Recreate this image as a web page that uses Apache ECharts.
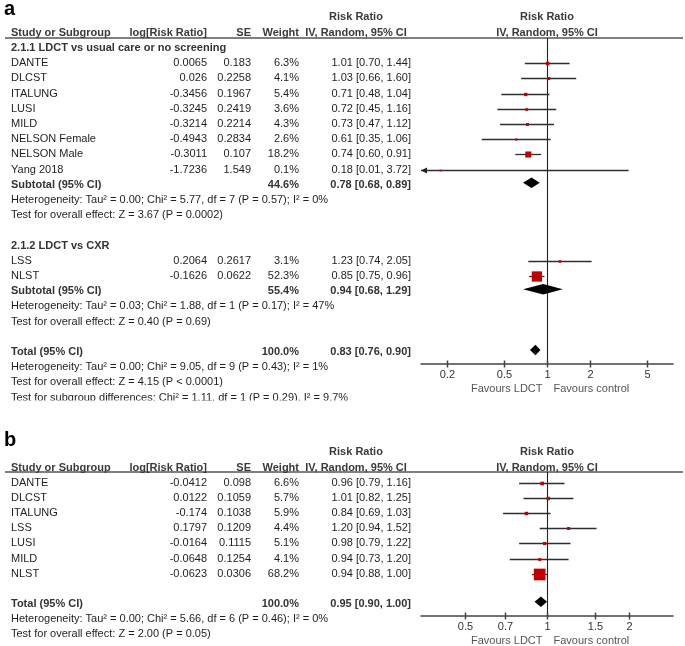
<!DOCTYPE html>
<html>
<head>
<meta charset="utf-8">
<script src="https://cdn.jsdelivr.net/npm/echarts@6/dist/echarts.min.js"></script>
<style>html,body{margin:0;padding:0;background:#fff}#c{width:685px;height:646px}</style>
</head>
<body>
<div id="c"></div>
<script>
// ================= DATA =================
// Panel a
const groupTitlesA = ['2.1.1 LDCT vs usual care or no screening', '2.1.2 LDCT vs CXR'];
const groupSizesA = [8, 2];
const studiesA = ['DANTE', 'DLCST', 'ITALUNG', 'LUSI', 'MILD', 'NELSON Female', 'NELSON Male', 'Yang 2018', 'LSS', 'NLST'];
const logRRA = [0.0065, 0.026, -0.3456, -0.3245, -0.3214, -0.4943, -0.3011, -1.7236, 0.2064, -0.1626];
const seA = [0.183, 0.2258, 0.1967, 0.2419, 0.2214, 0.2834, 0.107, 1.549, 0.2617, 0.0622];
const weightA = [6.3, 4.1, 5.4, 3.6, 4.3, 2.6, 18.2, 0.1, 3.1, 52.3];
const rrA = [1.01, 1.03, 0.71, 0.72, 0.73, 0.61, 0.74, 0.18, 1.23, 0.85];
const loA = [0.70, 0.66, 0.48, 0.45, 0.47, 0.35, 0.60, 0.01, 0.74, 0.75];
const hiA = [1.44, 1.60, 1.04, 1.16, 1.12, 1.06, 0.91, 3.72, 2.05, 0.96];
const subWeightA = [44.6, 55.4];
const subRRA = [0.78, 0.94];
const subLoA = [0.68, 0.68];
const subHiA = [0.89, 1.29];
const subHetA = ['Heterogeneity: Tau² = 0.00; Chi² = 5.77, df = 7 (P = 0.57); I² = 0%',
                 'Heterogeneity: Tau² = 0.03; Chi² = 1.88, df = 1 (P = 0.17); I² = 47%'];
const subTestA = ['Test for overall effect: Z = 3.67 (P = 0.0002)',
                  'Test for overall effect: Z = 0.40 (P = 0.69)'];
const totalA = [0.83, 0.76, 0.90];
const totalWeightA = 100.0;
const totalNotesA = ['Heterogeneity: Tau² = 0.00; Chi² = 9.05, df = 9 (P = 0.43); I² = 1%',
                     'Test for overall effect: Z = 4.15 (P < 0.0001)',
                     'Test for subgroup differences: Chi² = 1.11, df = 1 (P = 0.29), I² = 9.7%'];
const ticksA = [0.2, 0.5, 1, 2, 5];

// Panel b
const studiesB = ['DANTE', 'DLCST', 'ITALUNG', 'LSS', 'LUSI', 'MILD', 'NLST'];
const logRRB = [-0.0412, 0.0122, -0.174, 0.1797, -0.0164, -0.0648, -0.0623];
const seB = [0.098, 0.1059, 0.1038, 0.1209, 0.1115, 0.1254, 0.0306];
const weightB = [6.6, 5.7, 5.9, 4.4, 5.1, 4.1, 68.2];
const rrB = [0.96, 1.01, 0.84, 1.20, 0.98, 0.94, 0.94];
const loB = [0.79, 0.82, 0.69, 0.94, 0.79, 0.73, 0.88];
const hiB = [1.16, 1.25, 1.03, 1.52, 1.22, 1.20, 1.00];
const totalB = [0.95, 0.90, 1.00];
const totalWeightB = 100.0;
const totalNotesB = ['Heterogeneity: Tau² = 0.00; Chi² = 5.66, df = 6 (P = 0.46); I² = 0%',
                     'Test for overall effect: Z = 2.00 (P = 0.05)'];
const ticksB = [0.5, 0.7, 1, 1.5, 2];

// Texts
const headerTop = 'Risk Ratio';
const headerCols = ['Study or Subgroup', 'log[Risk Ratio]', 'SE', 'Weight', 'IV, Random, 95% CI'];
const favours = ['Favours LDCT', 'Favours control'];
const panelLabels = ['a', 'b'];

// ================= LAYOUT =================
const FF = '"Liberation Sans", Arial, Helvetica, sans-serif';
const COL = {name: 11, logrr: 207, se: 251, weight: 299, ciR: 411, ciC: 356};
const LA = {firstY: 48, rowH: 15.2, top: 38, axisY: 364, min: 1 / 7.6, max: 7.6};
const LB = {firstY: 483, rowH: 15.1, top: 472, axisY: 616, min: 1 / 2.9, max: 2.9};
const HC = '#3a3a3a';
const TC = '#1e1e1e';

function cell(t, x, a, bold, color) {
  return {t: t, x: x, a: a, bold: !!bold, color: color || (bold ? '#333' : TC)};
}
function ciText(rr, lo, hi) { return rr.toFixed(2) + ' [' + lo.toFixed(2) + ', ' + hi.toFixed(2) + ']'; }
function studyCells(name, lr, se, w, rr, lo, hi) {
  return [cell(name, COL.name, 'left'), cell(String(lr), COL.logrr, 'right'), cell(String(se), COL.se, 'right'),
          cell(w.toFixed(1) + '%', COL.weight, 'right'), cell(ciText(rr, lo, hi), COL.ciR, 'right')];
}
function headerRows() {
  return [
    {row: -2.07, cells: [cell(headerTop, COL.ciC, 'center', true, HC), cell(headerTop, 'forest', 'center', true, HC)]},
    {row: -1.02, cells: [cell(headerCols[0], COL.name, 'left', true, HC), cell(headerCols[1], COL.logrr, 'right', true, HC),
                      cell(headerCols[2], COL.se, 'right', true, HC), cell(headerCols[3], COL.weight, 'right', true, HC),
                      cell(headerCols[4], COL.ciC, 'center', true, HC), cell(headerCols[4], 'forest', 'center', true, HC)]}
  ];
}

// ---- build panel a rows ----
const rowsA = headerRows(), studyItemsA = [], diamondItemsA = [];
(function () {
  let r = 0, s = 0;
  groupTitlesA.forEach(function (title, g) {
    rowsA.push({row: r++, cells: [cell(title, COL.name, 'left', true)]});
    for (let k = 0; k < groupSizesA[g]; k++, s++) {
      rowsA.push({row: r, cells: studyCells(studiesA[s], logRRA[s], seA[s], weightA[s], rrA[s], loA[s], hiA[s])});
      studyItemsA.push([rrA[s], loA[s], hiA[s], r, weightA[s]]);
      r++;
    }
    rowsA.push({row: r, cells: [cell('Subtotal (95% CI)', COL.name, 'left', true),
      cell(subWeightA[g].toFixed(1) + '%', COL.weight, 'right', true),
      cell(ciText(subRRA[g], subLoA[g], subHiA[g]), COL.ciR, 'right', true)]});
    diamondItemsA.push([subRRA[g], subLoA[g], subHiA[g], r]);
    r++;
    rowsA.push({row: r++, cells: [cell(subHetA[g], COL.name, 'left')]});
    rowsA.push({row: r++, cells: [cell(subTestA[g], COL.name, 'left')]});
    r++;
  });
  rowsA.push({row: r, cells: [cell('Total (95% CI)', COL.name, 'left', true),
    cell(totalWeightA.toFixed(1) + '%', COL.weight, 'right', true),
    cell(ciText(totalA[0], totalA[1], totalA[2]), COL.ciR, 'right', true)]});
  diamondItemsA.push([totalA[0], totalA[1], totalA[2], r]);
  r++;
  totalNotesA.forEach(function (t) { rowsA.push({row: r++, cells: [cell(t, COL.name, 'left')]}); });
})();

// ---- build panel b rows ----
const rowsB = headerRows(), studyItemsB = [], diamondItemsB = [];
(function () {
  let r = 0;
  studiesB.forEach(function (nm, s) {
    rowsB.push({row: r, cells: studyCells(nm, logRRB[s], seB[s], weightB[s], rrB[s], loB[s], hiB[s])});
    studyItemsB.push([rrB[s], loB[s], hiB[s], r, weightB[s]]);
    r++;
  });
  r++;
  rowsB.push({row: r, cells: [cell('Total (95% CI)', COL.name, 'left', true),
    cell(totalWeightB.toFixed(1) + '%', COL.weight, 'right', true),
    cell(ciText(totalB[0], totalB[1], totalB[2]), COL.ciR, 'right', true)]});
  diamondItemsB.push([totalB[0], totalB[1], totalB[2], r]);
  r++;
  totalNotesB.forEach(function (t) { rowsB.push({row: r++, cells: [cell(t, COL.name, 'left')]}); });
})();

// ================= SERIES =================
function txt(x, y, text, align, font, fill) {
  return {type: 'text', x: x, y: y, silent: true,
    style: {text: text, x: 0, y: 0, align: align, textAlign: align, verticalAlign: 'middle', textVerticalAlign: 'middle', font: font, fill: fill}};
}
function tableSeries(gi, rows) {
  return {
    type: 'custom', xAxisIndex: gi, yAxisIndex: gi, clip: false, silent: true, z: 5,
    data: rows.map(function (r) { return [1, r.row]; }),
    encode: {x: 0, y: 1},
    renderItem: function (params, api) {
      const def = rows[params.dataIndex];
      const p = api.coord([1, api.value(1)]);
      return {type: 'group', children: def.cells.map(function (c) {
        const x = c.x === 'forest' ? p[0] : c.x;
        return txt(x, p[1], c.t, c.a, (c.bold ? 'bold ' : '') + '11px ' + FF, c.color);
      })};
    }
  };
}
function studySeries(gi, items) {
  return {
    type: 'custom', xAxisIndex: gi, yAxisIndex: gi, clip: false, silent: true, z: 4,
    data: items, encode: {x: [0, 1, 2], y: 3},
    renderItem: function (params, api) {
      const cs = params.coordSys;
      const row = api.value(3);
      const y = Math.round(api.coord([1, row])[1]) + 0.5;
      const xc = api.coord([api.value(0), row])[0];
      let xl = api.coord([api.value(1), row])[0];
      let xh = api.coord([api.value(2), row])[0];
      const left = cs.x, right = cs.x + cs.width;
      const arrowL = xl < left, arrowR = xh > right;
      xl = Math.max(xl, left); xh = Math.min(xh, right);
      const kids = [{type: 'line', shape: {x1: xl, y1: y, x2: xh, y2: y}, style: {stroke: '#2e2e2e', lineWidth: 1.3}}];
      if (arrowL) kids.push({type: 'polygon', shape: {points: [[left, y], [left + 6, y - 3], [left + 6, y + 3]]}, style: {fill: '#222'}});
      if (arrowR) kids.push({type: 'polygon', shape: {points: [[right, y], [right - 6, y - 3], [right - 6, y + 3]]}, style: {fill: '#222'}});
      const sz = Math.max(1.8, 1.42 * Math.sqrt(api.value(4)));
      kids.push({type: 'rect', shape: {x: xc - sz / 2, y: y - sz / 2, width: sz, height: sz}, style: {fill: '#c00000'}});
      return {type: 'group', children: kids};
    }
  };
}
function diamondSeries(gi, items) {
  return {
    type: 'custom', xAxisIndex: gi, yAxisIndex: gi, clip: false, silent: true, z: 4,
    data: items, encode: {x: [0, 1, 2], y: 3},
    renderItem: function (params, api) {
      const row = api.value(3);
      const pc = api.coord([api.value(0), row]);
      const xl = api.coord([api.value(1), row])[0];
      const xh = api.coord([api.value(2), row])[0];
      const y = pc[1] - 2, h = 5.2;
      return {type: 'polygon', shape: {points: [[xl, y], [pc[0], y - h], [xh, y], [pc[0], y + h]]}, style: {fill: '#000'}};
    }
  };
}
function refLineSeries(gi) {
  return {
    type: 'custom', xAxisIndex: gi, yAxisIndex: gi, clip: false, silent: true, z: 3,
    data: [[1, 0]], encode: {x: 0, y: 1},
    renderItem: function (params, api) {
      const cs = params.coordSys;
      const x = Math.round(api.coord([api.value(0), api.value(1)])[0]) + 0.5;
      const ay = cs.y + cs.height;
      return {type: 'group', children: [
        {type: 'line', shape: {x1: x, y1: cs.y, x2: x, y2: ay}, style: {stroke: '#222', lineWidth: 1.1}},
        txt(x - 5, ay + 25, favours[0], 'right', '11px ' + FF, '#555'),
        txt(x + 6, ay + 25, favours[1], 'left', '11px ' + FF, '#555')
      ]};
    }
  };
}
function tickSeries(gi, ticks) {
  return {
    type: 'custom', xAxisIndex: gi, yAxisIndex: gi, clip: false, silent: true, z: 3,
    data: ticks.map(function (v) { return [v, 0]; }), encode: {x: 0, y: 1},
    renderItem: function (params, api) {
      const cs = params.coordSys;
      const ay = cs.y + cs.height;
      const x = Math.round(api.coord([api.value(0), api.value(1)])[0]) + 0.5;
      return {type: 'group', children: [
        {type: 'line', shape: {x1: x, y1: ay - 3.5, x2: x, y2: ay + 3.5}, style: {stroke: '#444', lineWidth: 1.5}},
        txt(x, ay + 11, String(ticks[params.dataIndex]), 'center', '11px ' + FF, '#333')
      ]};
    }
  };
}
function xAxisFor(gi, L) {
  return {type: 'log', logBase: 10, gridIndex: gi, min: L.min, max: L.max,
    axisLine: {show: true, onZero: false, lineStyle: {color: '#444', width: 1.5}},
    axisTick: {show: false}, axisLabel: {show: false}, splitLine: {show: false}};
}
function yAxisFor(gi, L) {
  return {type: 'value', gridIndex: gi, inverse: true, show: false,
    min: (L.top - L.firstY) / L.rowH, max: (L.axisY - L.firstY) / L.rowH,
    splitLine: {show: false}};
}

const chart = echarts.init(document.getElementById('c'), null, {renderer: 'canvas'});
chart.setOption({
  animation: false,
  backgroundColor: '#fff',
  grid: [
    {left: 421, right: 12, top: LA.top, height: LA.axisY - LA.top},
    {left: 421, right: 12, top: LB.top, height: LB.axisY - LB.top}
  ],
  xAxis: [xAxisFor(0, LA), xAxisFor(1, LB)],
  yAxis: [yAxisFor(0, LA), yAxisFor(1, LB)],
  series: [
    refLineSeries(0), tickSeries(0, ticksA), studySeries(0, studyItemsA), diamondSeries(0, diamondItemsA), tableSeries(0, rowsA),
    refLineSeries(1), tickSeries(1, ticksB), studySeries(1, studyItemsB), diamondSeries(1, diamondItemsB), tableSeries(1, rowsB)
  ],
  graphic: [
    {type: 'text', left: 4, top: -1, silent: true, style: {text: panelLabels[0], font: 'bold 20px ' + FF, fill: '#000'}},
    {type: 'text', left: 4, top: 430, silent: true, style: {text: panelLabels[1], font: 'bold 20px ' + FF, fill: '#000'}},
    {type: 'line', silent: true, shape: {x1: 5, y1: LA.top, x2: 683, y2: LA.top}, style: {stroke: '#555', lineWidth: 1.5}},
    {type: 'line', silent: true, shape: {x1: 5, y1: LB.top, x2: 683, y2: LB.top}, style: {stroke: '#555', lineWidth: 1.5}},
    {type: 'rect', silent: true, z: 100, shape: {x: 0, y: 400.5, width: 420, height: 14}, style: {fill: '#fff'}}
  ]
});
</script>
</body>
</html>
